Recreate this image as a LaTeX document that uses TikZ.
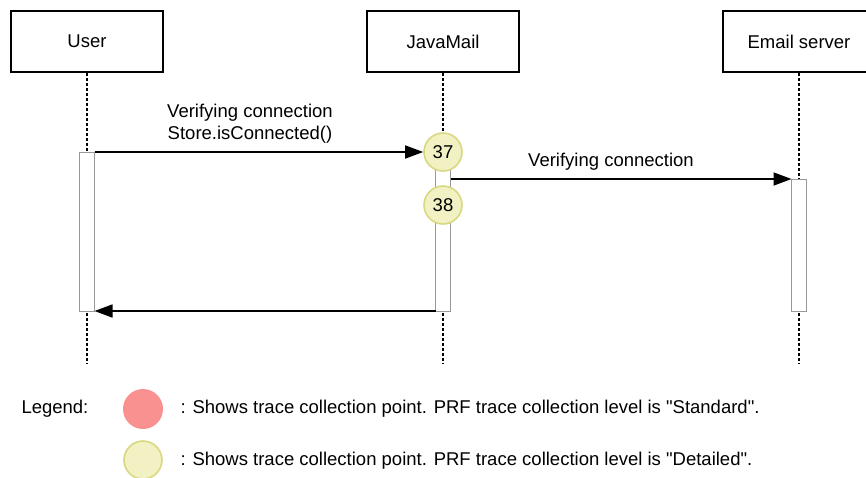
\documentclass[tikz,border=0pt]{standalone}
\usepackage{fontspec}
\setmainfont{Liberation Sans}
\usetikzlibrary{arrows.meta}
\definecolor{ptfill}{HTML}{F1F1C3}
\definecolor{ptdraw}{HTML}{D8D880}
\definecolor{stdfill}{HTML}{F99191}
\begin{document}
\begin{tikzpicture}[x=1pt,y=-1pt,
  txt/.style={font=\fontsize{18.5}{22}\selectfont},
  actor/.style={draw,line width=1.6pt,minimum width=152pt,minimum height=61pt,inner sep=0pt,txt},
  life/.style={line width=1.6pt,dash pattern=on 3pt off 2pt},
  act/.style={draw=gray!80,line width=1pt,fill=white},
  msg/.style={line width=1.6pt,-{Triangle[length=18pt,width=13pt]}},
  tracept/.style={circle,draw=ptdraw,fill=ptfill,minimum size=38pt,inner sep=0pt,line width=1.6pt,txt},
  stdpt/.style={circle,fill=stdfill,minimum size=40pt,inner sep=0pt},
  lbl/.style={txt,align=center}
]
\useasboundingbox (0,0) rectangle (866,477);
% actors
\node[actor] (user) at (87,41.5) {User};
\node[actor] (jm) at (443,41.5) {JavaMail};
\node[actor] (es) at (799,41.5) {Email server};
% lifeline ends
\coordinate (ue) at (87,364);
\coordinate (je) at (443,364);
\coordinate (ee) at (799,364);
\draw[life] (user.south) -- (ue);
\draw[life] (jm.south) -- (je);
\draw[life] (es.south) -- (ee);
% activations
\node[act,minimum width=15pt,minimum height=159pt,inner sep=0pt,outer sep=0pt] (ua) at (87,231.5) {};
\node[act,minimum width=15pt,minimum height=161pt,inner sep=0pt,outer sep=0pt] (ja) at (443,230.5) {};
\node[act,minimum width=15pt,minimum height=132pt,inner sep=0pt,outer sep=0pt] (ea) at (799,245) {};
% trace points
\node[tracept] (p37) at (443,152) {37};
\node[tracept] (p38) at (443,205) {38};
% messages
\draw[msg] (ua.east |- p37.west) -- (p37.west);
\node[lbl] (m1) at (250,124) {Verifying connection\\Store.isConnected()};
\draw[msg] (ja.east |- ea.north) -- (ea.north west);
\node[txt] (m2) at (611,162) {Verifying connection};
\draw[msg] (ja.south west) -- (ua.south east);
% legend
\node[txt,anchor=west] (leg) at (18,409) {Legend:};
\node[stdpt] (lg1) at (143,409) {};
\node[txt,anchor=west] (lt1) at (177,409) {: Shows trace collection point. PRF trace collection level is \textquotedbl Standard\textquotedbl.};
\node[tracept,minimum size=38pt] (lg2) at (143,460) {};
\node[txt,anchor=west] (lt2) at (177,461) {: Shows trace collection point. PRF trace collection level is \textquotedbl Detailed\textquotedbl.};
\end{tikzpicture}
\end{document}
